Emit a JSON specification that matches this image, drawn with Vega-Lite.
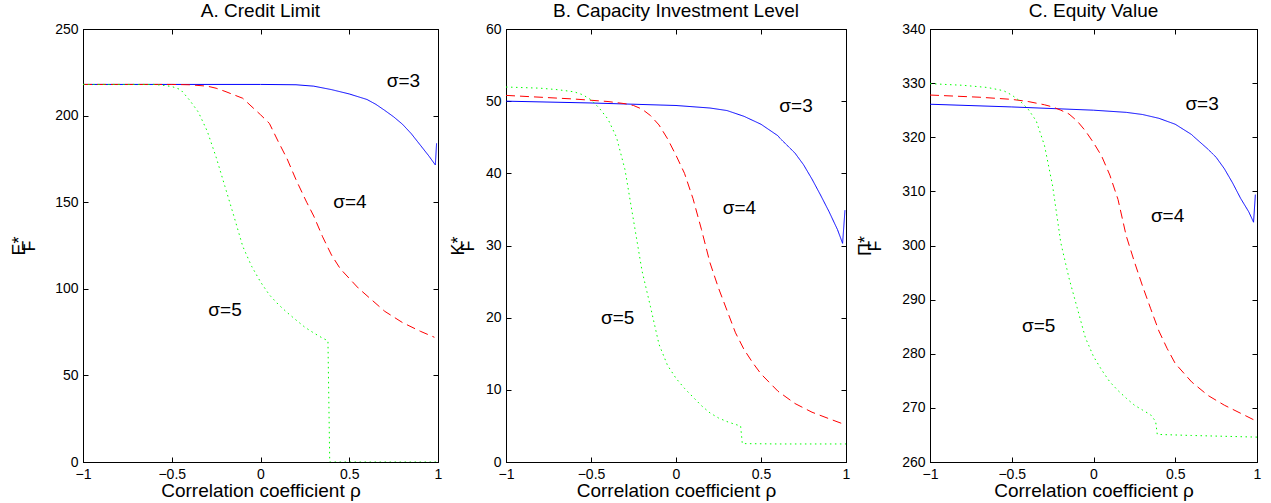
{
  "$schema": "https://vega.github.io/schema/vega-lite/v6.json",
  "padding": {"left": 10, "top": 1, "right": 0, "bottom": 0},
  "spacing": 5,
  "config": {
    "font": "Liberation Sans",
    "view": {"stroke": "black", "strokeWidth": 1},
    "axis": {"grid": false, "domain": true, "ticks": true, "domainColor": "black", "tickColor": "black", "labelColor": "black", "titleColor": "black", "labelFont": "Liberation Sans", "labelFontSize": 14, "titleFont": "Liberation Sans", "titleFontSize": 19, "titleFontWeight": "normal", "tickSize": -5, "labelPadding": 10, "domainWidth": 1, "tickWidth": 1, "labelFlush": false, "labelOverlap": false},
    "title": {"font": "Liberation Sans", "fontSize": 19, "fontWeight": "normal", "color": "black", "frame": "group", "offset": 1}
  },
  "datasets": {
    "curves": [
      {"p":"A","s":"3","x":-1,"y":218},{"p":"A","s":"3","x":-0.5,"y":218},{"p":"A","s":"3","x":0,"y":218},{"p":"A","s":"3","x":0.2,"y":217.8},{"p":"A","s":"3","x":0.3,"y":217},{"p":"A","s":"3","x":0.4,"y":215},{"p":"A","s":"3","x":0.5,"y":212.5},{"p":"A","s":"3","x":0.6,"y":209.3},{"p":"A","s":"3","x":0.65,"y":206.5},{"p":"A","s":"3","x":0.7,"y":203},{"p":"A","s":"3","x":0.75,"y":199.3},{"p":"A","s":"3","x":0.8,"y":195},{"p":"A","s":"3","x":0.85,"y":189.5},{"p":"A","s":"3","x":0.9,"y":183},{"p":"A","s":"3","x":0.95,"y":176.5},{"p":"A","s":"3","x":0.985,"y":171.5},{"p":"A","s":"3","x":0.992,"y":184},
      {"p":"A","s":"4","x":-1,"y":218},{"p":"A","s":"4","x":-0.5,"y":218},{"p":"A","s":"4","x":-0.4,"y":217.8},{"p":"A","s":"4","x":-0.3,"y":217},{"p":"A","s":"4","x":-0.25,"y":215.8},{"p":"A","s":"4","x":-0.2,"y":214},{"p":"A","s":"4","x":-0.1,"y":210},{"p":"A","s":"4","x":0,"y":200.5},{"p":"A","s":"4","x":0.05,"y":195.5},{"p":"A","s":"4","x":0.1,"y":185},{"p":"A","s":"4","x":0.15,"y":175},{"p":"A","s":"4","x":0.2,"y":163},{"p":"A","s":"4","x":0.26,"y":150},{"p":"A","s":"4","x":0.3,"y":142},{"p":"A","s":"4","x":0.35,"y":130},{"p":"A","s":"4","x":0.4,"y":119.5},{"p":"A","s":"4","x":0.45,"y":111.5},{"p":"A","s":"4","x":0.5,"y":106},{"p":"A","s":"4","x":0.55,"y":100.5},{"p":"A","s":"4","x":0.6,"y":96},{"p":"A","s":"4","x":0.7,"y":87},{"p":"A","s":"4","x":0.8,"y":80.5},{"p":"A","s":"4","x":0.9,"y":75.5},{"p":"A","s":"4","x":0.98,"y":72},
      {"p":"A","s":"5","x":-1,"y":218},{"p":"A","s":"5","x":-0.6,"y":218},{"p":"A","s":"5","x":-0.55,"y":217.5},{"p":"A","s":"5","x":-0.5,"y":216.8},{"p":"A","s":"5","x":-0.45,"y":215},{"p":"A","s":"5","x":-0.4,"y":209},{"p":"A","s":"5","x":-0.35,"y":202},{"p":"A","s":"5","x":-0.3,"y":191},{"p":"A","s":"5","x":-0.25,"y":176},{"p":"A","s":"5","x":-0.2,"y":159},{"p":"A","s":"5","x":-0.15,"y":142},{"p":"A","s":"5","x":-0.1,"y":124.5},{"p":"A","s":"5","x":-0.05,"y":113},{"p":"A","s":"5","x":0,"y":104},{"p":"A","s":"5","x":0.05,"y":96.5},{"p":"A","s":"5","x":0.1,"y":91},{"p":"A","s":"5","x":0.15,"y":86.3},{"p":"A","s":"5","x":0.2,"y":82},{"p":"A","s":"5","x":0.25,"y":77.8},{"p":"A","s":"5","x":0.3,"y":74.5},{"p":"A","s":"5","x":0.35,"y":71.5},{"p":"A","s":"5","x":0.38,"y":70},{"p":"A","s":"5","x":0.39,"y":0},{"p":"A","s":"5","x":0.5,"y":0},{"p":"A","s":"5","x":0.75,"y":0},{"p":"A","s":"5","x":1,"y":0},
      {"p":"B","s":"3","x":-1,"y":50},{"p":"B","s":"3","x":-0.5,"y":49.75},{"p":"B","s":"3","x":0,"y":49.4},{"p":"B","s":"3","x":0.2,"y":49.05},{"p":"B","s":"3","x":0.3,"y":48.7},{"p":"B","s":"3","x":0.4,"y":47.9},{"p":"B","s":"3","x":0.5,"y":46.8},{"p":"B","s":"3","x":0.6,"y":45.2},{"p":"B","s":"3","x":0.61,"y":44.9},{"p":"B","s":"3","x":0.7,"y":42.8},{"p":"B","s":"3","x":0.75,"y":41.2},{"p":"B","s":"3","x":0.8,"y":39.2},{"p":"B","s":"3","x":0.85,"y":37},{"p":"B","s":"3","x":0.9,"y":34.7},{"p":"B","s":"3","x":0.95,"y":32.2},{"p":"B","s":"3","x":0.98,"y":30.3},{"p":"B","s":"3","x":0.994,"y":34.9},
      {"p":"B","s":"4","x":-1,"y":50.8},{"p":"B","s":"4","x":-0.6,"y":50.3},{"p":"B","s":"4","x":-0.4,"y":49.95},{"p":"B","s":"4","x":-0.3,"y":49.65},{"p":"B","s":"4","x":-0.25,"y":49.4},{"p":"B","s":"4","x":-0.2,"y":48.9},{"p":"B","s":"4","x":-0.15,"y":48},{"p":"B","s":"4","x":-0.1,"y":46.7},{"p":"B","s":"4","x":-0.05,"y":44.8},{"p":"B","s":"4","x":0,"y":42.5},{"p":"B","s":"4","x":0.05,"y":40},{"p":"B","s":"4","x":0.1,"y":36.5},{"p":"B","s":"4","x":0.15,"y":32.2},{"p":"B","s":"4","x":0.2,"y":27.6},{"p":"B","s":"4","x":0.25,"y":24.1},{"p":"B","s":"4","x":0.3,"y":21},{"p":"B","s":"4","x":0.35,"y":17.9},{"p":"B","s":"4","x":0.4,"y":15.6},{"p":"B","s":"4","x":0.45,"y":13.8},{"p":"B","s":"4","x":0.5,"y":12.2},{"p":"B","s":"4","x":0.6,"y":9.8},{"p":"B","s":"4","x":0.7,"y":8.1},{"p":"B","s":"4","x":0.8,"y":6.9},{"p":"B","s":"4","x":0.9,"y":6},{"p":"B","s":"4","x":0.98,"y":5.3},
      {"p":"B","s":"5","x":-1,"y":51.96},{"p":"B","s":"5","x":-0.8,"y":51.8},{"p":"B","s":"5","x":-0.7,"y":51.6},{"p":"B","s":"5","x":-0.6,"y":51.3},{"p":"B","s":"5","x":-0.55,"y":50.9},{"p":"B","s":"5","x":-0.5,"y":50.2},{"p":"B","s":"5","x":-0.45,"y":49},{"p":"B","s":"5","x":-0.4,"y":47.5},{"p":"B","s":"5","x":-0.35,"y":45},{"p":"B","s":"5","x":-0.3,"y":40.5},{"p":"B","s":"5","x":-0.25,"y":33.5},{"p":"B","s":"5","x":-0.2,"y":26.5},{"p":"B","s":"5","x":-0.15,"y":21.5},{"p":"B","s":"5","x":-0.1,"y":16.3},{"p":"B","s":"5","x":-0.05,"y":13.4},{"p":"B","s":"5","x":0,"y":11.6},{"p":"B","s":"5","x":0.05,"y":10.2},{"p":"B","s":"5","x":0.1,"y":9},{"p":"B","s":"5","x":0.15,"y":7.8},{"p":"B","s":"5","x":0.2,"y":6.8},{"p":"B","s":"5","x":0.25,"y":6.1},{"p":"B","s":"5","x":0.3,"y":5.6},{"p":"B","s":"5","x":0.35,"y":5.2},{"p":"B","s":"5","x":0.38,"y":5},{"p":"B","s":"5","x":0.39,"y":2.55},{"p":"B","s":"5","x":0.6,"y":2.5},{"p":"B","s":"5","x":1,"y":2.5},
      {"p":"C","s":"3","x":-1,"y":326.1},{"p":"C","s":"3","x":-0.5,"y":325.6},{"p":"C","s":"3","x":0,"y":325},{"p":"C","s":"3","x":0.2,"y":324.6},{"p":"C","s":"3","x":0.3,"y":324.2},{"p":"C","s":"3","x":0.4,"y":323.5},{"p":"C","s":"3","x":0.5,"y":322.4},{"p":"C","s":"3","x":0.6,"y":320.5},{"p":"C","s":"3","x":0.61,"y":320.2},{"p":"C","s":"3","x":0.7,"y":317.8},{"p":"C","s":"3","x":0.75,"y":316.3},{"p":"C","s":"3","x":0.8,"y":314.2},{"p":"C","s":"3","x":0.85,"y":311.6},{"p":"C","s":"3","x":0.9,"y":308.7},{"p":"C","s":"3","x":0.95,"y":306.2},{"p":"C","s":"3","x":0.979,"y":304.3},{"p":"C","s":"3","x":0.99,"y":309.4},
      {"p":"C","s":"4","x":-1,"y":327.8},{"p":"C","s":"4","x":-0.7,"y":327.4},{"p":"C","s":"4","x":-0.5,"y":327},{"p":"C","s":"4","x":-0.4,"y":326.6},{"p":"C","s":"4","x":-0.3,"y":326},{"p":"C","s":"4","x":-0.25,"y":325.6},{"p":"C","s":"4","x":-0.2,"y":325},{"p":"C","s":"4","x":-0.15,"y":324.3},{"p":"C","s":"4","x":-0.1,"y":323},{"p":"C","s":"4","x":-0.05,"y":321.2},{"p":"C","s":"4","x":0,"y":319},{"p":"C","s":"4","x":0.05,"y":316.5},{"p":"C","s":"4","x":0.1,"y":313},{"p":"C","s":"4","x":0.15,"y":308.5},{"p":"C","s":"4","x":0.2,"y":301.8},{"p":"C","s":"4","x":0.25,"y":297},{"p":"C","s":"4","x":0.3,"y":292.5},{"p":"C","s":"4","x":0.35,"y":288.3},{"p":"C","s":"4","x":0.4,"y":284.2},{"p":"C","s":"4","x":0.45,"y":281},{"p":"C","s":"4","x":0.5,"y":278.2},{"p":"C","s":"4","x":0.6,"y":274.8},{"p":"C","s":"4","x":0.7,"y":272.3},{"p":"C","s":"4","x":0.8,"y":270.5},{"p":"C","s":"4","x":0.9,"y":269},{"p":"C","s":"4","x":0.98,"y":267.8},
      {"p":"C","s":"5","x":-1,"y":329.9},{"p":"C","s":"5","x":-0.8,"y":329.6},{"p":"C","s":"5","x":-0.65,"y":329.2},{"p":"C","s":"5","x":-0.55,"y":328.6},{"p":"C","s":"5","x":-0.5,"y":327.8},{"p":"C","s":"5","x":-0.45,"y":326.7},{"p":"C","s":"5","x":-0.4,"y":325.2},{"p":"C","s":"5","x":-0.35,"y":323},{"p":"C","s":"5","x":-0.3,"y":318.5},{"p":"C","s":"5","x":-0.25,"y":311},{"p":"C","s":"5","x":-0.2,"y":300.5},{"p":"C","s":"5","x":-0.15,"y":294},{"p":"C","s":"5","x":-0.1,"y":288.5},{"p":"C","s":"5","x":-0.05,"y":283},{"p":"C","s":"5","x":0,"y":279.5},{"p":"C","s":"5","x":0.05,"y":277},{"p":"C","s":"5","x":0.1,"y":274.8},{"p":"C","s":"5","x":0.15,"y":273.2},{"p":"C","s":"5","x":0.2,"y":271.8},{"p":"C","s":"5","x":0.25,"y":270.5},{"p":"C","s":"5","x":0.3,"y":269.6},{"p":"C","s":"5","x":0.35,"y":268.7},{"p":"C","s":"5","x":0.38,"y":267.5},{"p":"C","s":"5","x":0.39,"y":265.1},{"p":"C","s":"5","x":0.6,"y":264.9},{"p":"C","s":"5","x":1,"y":264.6}
    ],
    "labels": [
      {"p":"A","t":"σ=3","x":0.805,"y":219.7},{"p":"A","t":"σ=4","x":0.504,"y":150.1},{"p":"A","t":"σ=5","x":-0.2,"y":88},
      {"p":"B","t":"σ=3","x":0.706,"y":49.3},{"p":"B","t":"σ=4","x":0.373,"y":35.2},{"p":"B","t":"σ=5","x":-0.343,"y":19.95},
      {"p":"C","t":"σ=3","x":0.664,"y":326.1},{"p":"C","t":"σ=4","x":0.453,"y":305.5},{"p":"C","t":"σ=5","x":-0.335,"y":285.1}
    ]
  },
  "hconcat": [
    {
      "title": "A. Credit Limit",
      "width": 355, "height": 433,
      "resolve": {"axis": {"x": "independent", "y": "independent"}},
      "layer": [
        {
          "data": {"name": "curves"},
          "transform": [{"filter": "datum.p === 'A'"}],
          "mark": {"type": "line", "strokeWidth": 1, "clip": true},
          "encoding": {
            "x": {"field": "x", "type": "quantitative", "scale": {"domain": [-1, 1], "nice": false, "zero": false}, "axis": {"orient": "bottom", "values": [-1, -0.5, 0, 0.5, 1], "format": "~g", "title": "Correlation coefficient ρ", "titlePadding": 0}},
            "y": {"field": "y", "type": "quantitative", "scale": {"domain": [0, 250], "nice": false, "zero": false}, "axis": {"orient": "left", "values": [0, 50, 100, 150, 200, 250], "title": ["E*", "\u00a0\u00a0\u00a0\u00a0\u00a0\u00a0\u00a0F"], "titleLineHeight": 10, "titleFontSize": 18, "titlePadding": 16}},
            "color": {"field": "s", "type": "nominal", "scale": {"domain": ["3", "4", "5"], "range": ["#0000ff", "#ff0000", "#00ff00"]}, "legend": null},
            "strokeDash": {"field": "s", "type": "nominal", "scale": {"domain": ["3", "4", "5"], "range": [[1, 0], [9, 5], [1.5, 3.5]]}, "legend": null}
          }
        },
        {
          "data": {"name": "labels"},
          "transform": [{"filter": "datum.p === 'A'"}],
          "mark": {"type": "text", "fontSize": 19, "font": "Liberation Sans", "color": "black", "align": "center", "baseline": "middle"},
          "encoding": {
            "x": {"field": "x", "type": "quantitative", "axis": {"orient": "top", "values": [-1, -0.5, 0, 0.5, 1], "labels": false, "title": null}},
            "y": {"field": "y", "type": "quantitative", "axis": {"orient": "right", "values": [0, 50, 100, 150, 200, 250], "labels": false, "title": null}},
            "text": {"field": "t", "type": "nominal"}
          }
        }
      ]
    },
    {
      "title": "B. Capacity Investment Level",
      "width": 340, "height": 433,
      "resolve": {"axis": {"x": "independent", "y": "independent"}},
      "layer": [
        {
          "data": {"name": "curves"},
          "transform": [{"filter": "datum.p === 'B'"}],
          "mark": {"type": "line", "strokeWidth": 1, "clip": true},
          "encoding": {
            "x": {"field": "x", "type": "quantitative", "scale": {"domain": [-1, 1], "nice": false, "zero": false}, "axis": {"orient": "bottom", "values": [-1, -0.5, 0, 0.5, 1], "format": "~g", "title": "Correlation coefficient ρ", "titlePadding": 0}},
            "y": {"field": "y", "type": "quantitative", "scale": {"domain": [0, 60], "nice": false, "zero": false}, "axis": {"orient": "left", "values": [0, 10, 20, 30, 40, 50, 60], "title": ["K*", "\u00a0\u00a0\u00a0\u00a0\u00a0\u00a0\u00a0F"], "titleLineHeight": 10, "titleFontSize": 18, "titlePadding": 8}},
            "color": {"field": "s", "type": "nominal", "scale": {"domain": ["3", "4", "5"], "range": ["#0000ff", "#ff0000", "#00ff00"]}, "legend": null},
            "strokeDash": {"field": "s", "type": "nominal", "scale": {"domain": ["3", "4", "5"], "range": [[1, 0], [9, 5], [1.5, 3.5]]}, "legend": null}
          }
        },
        {
          "data": {"name": "labels"},
          "transform": [{"filter": "datum.p === 'B'"}],
          "mark": {"type": "text", "fontSize": 19, "font": "Liberation Sans", "color": "black", "align": "center", "baseline": "middle"},
          "encoding": {
            "x": {"field": "x", "type": "quantitative", "axis": {"orient": "top", "values": [-1, -0.5, 0, 0.5, 1], "labels": false, "title": null}},
            "y": {"field": "y", "type": "quantitative", "axis": {"orient": "right", "values": [0, 10, 20, 30, 40, 50, 60], "labels": false, "title": null}},
            "text": {"field": "t", "type": "nominal"}
          }
        }
      ]
    },
    {
      "title": "C. Equity Value",
      "width": 327, "height": 433,
      "resolve": {"axis": {"x": "independent", "y": "independent"}},
      "layer": [
        {
          "data": {"name": "curves"},
          "transform": [{"filter": "datum.p === 'C'"}],
          "mark": {"type": "line", "strokeWidth": 1, "clip": true},
          "encoding": {
            "x": {"field": "x", "type": "quantitative", "scale": {"domain": [-1, 1], "nice": false, "zero": false}, "axis": {"orient": "bottom", "values": [-1, -0.5, 0, 0.5, 1], "format": "~g", "title": "Correlation coefficient ρ", "titlePadding": 0}},
            "y": {"field": "y", "type": "quantitative", "scale": {"domain": [260, 340], "nice": false, "zero": false}, "axis": {"orient": "left", "values": [260, 270, 280, 290, 300, 310, 320, 330, 340], "title": ["Π*", "\u00a0\u00a0\u00a0\u00a0\u00a0\u00a0\u00a0F"], "titleLineHeight": 10, "titleFontSize": 18, "titlePadding": 17}},
            "color": {"field": "s", "type": "nominal", "scale": {"domain": ["3", "4", "5"], "range": ["#0000ff", "#ff0000", "#00ff00"]}, "legend": null},
            "strokeDash": {"field": "s", "type": "nominal", "scale": {"domain": ["3", "4", "5"], "range": [[1, 0], [9, 5], [1.5, 3.5]]}, "legend": null}
          }
        },
        {
          "data": {"name": "labels"},
          "transform": [{"filter": "datum.p === 'C'"}],
          "mark": {"type": "text", "fontSize": 19, "font": "Liberation Sans", "color": "black", "align": "center", "baseline": "middle"},
          "encoding": {
            "x": {"field": "x", "type": "quantitative", "axis": {"orient": "top", "values": [-1, -0.5, 0, 0.5, 1], "labels": false, "title": null}},
            "y": {"field": "y", "type": "quantitative", "axis": {"orient": "right", "values": [260, 270, 280, 290, 300, 310, 320, 330, 340], "labels": false, "title": null}},
            "text": {"field": "t", "type": "nominal"}
          }
        }
      ]
    }
  ]
}
